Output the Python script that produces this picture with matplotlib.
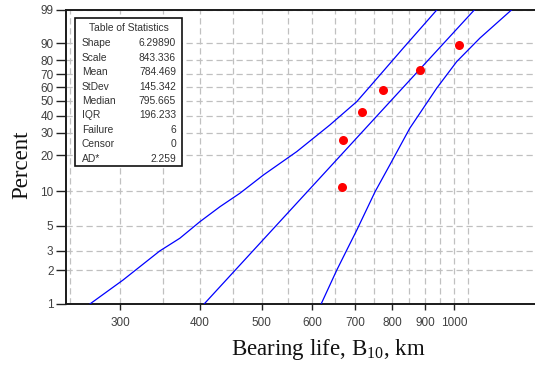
import numpy as np
import matplotlib
matplotlib.use("Agg")
import matplotlib.pyplot as plt
from matplotlib.patches import Rectangle
from matplotlib.ticker import FixedLocator, FixedFormatter, NullFormatter

# ---- data ----
life_km = [667, 670, 717, 775, 884, 1017]
percent = [10.94, 26.56, 42.19, 57.81, 73.44, 89.06]

fit_x = [406, 1075]
fit_p = [1, 99]

upper_x = [269, 303, 346, 372, 400, 430, 462, 503, 567, 639, 704, 738, 832, 939]
upper_p = [1.0, 1.64, 2.99, 3.88, 5.44, 7.36, 9.62, 13.77, 21.4, 34.3, 49.5, 60.7, 87.5, 99.0]

lower_x = [619, 655, 679, 704, 752, 793, 852, 939, 1009, 1097, 1229]
lower_p = [1.0, 2.02, 3.05, 4.59, 9.93, 16.7, 32.4, 59.5, 79.2, 92.3, 99.0]

x_ticks = [300, 400, 500, 600, 700, 800, 900, 1000]
x_grid = [250, 350, 450, 550, 650, 750, 850, 950, 1050]
y_ticks = [1, 2, 3, 5, 10, 20, 30, 40, 50, 60, 70, 80, 90, 99]

stat_names = ["Shape", "Scale", "Mean", "StDev", "Median", "IQR", "Failure", "Censor", "AD*"]
stat_values = ["6.29890", "843.336", "784.469", "145.342", "795.665", "196.233", "6", "0", "2.259"]

W, H = 535, 365
fig = plt.figure(figsize=(W / 100, H / 100), dpi=100)
ax = fig.add_axes([66 / W, 1 - 304 / H, (W - 66) / W, (304 - 10) / H])


def fwd(p):
    p = np.clip(np.asarray(p, dtype=float), 1e-6, 100 - 1e-6) / 100.0
    return np.log(-np.log(1 - p))


def inv(v):
    v = np.asarray(v, dtype=float)
    return 100.0 * (1 - np.exp(-np.exp(v)))


ax.set_xscale("log")
ax.set_yscale("function", functions=(fwd, inv))
ax.set_xlim(246.8, 1338)
ax.set_ylim(1, 99)

blue = "#0000ff"
ax.plot(upper_x, upper_p, color=blue, lw=0.9, zorder=3)
ax.plot(fit_x, fit_p, color=blue, lw=0.9, zorder=3)
ax.plot(lower_x, lower_p, color=blue, lw=0.9, zorder=3)
ax.plot(life_km, percent, "o", color="#ff0000", ms=6.5, mec="none", zorder=4)

ax.xaxis.set_major_locator(FixedLocator(x_ticks))
ax.xaxis.set_major_formatter(FixedFormatter([str(v) for v in x_ticks]))
ax.xaxis.set_minor_locator(FixedLocator(x_grid))
ax.xaxis.set_minor_formatter(NullFormatter())
ax.yaxis.set_major_locator(FixedLocator(y_ticks))
ax.yaxis.set_major_formatter(FixedFormatter([str(v) for v in y_ticks]))
ax.yaxis.set_minor_locator(FixedLocator([]))

ax.grid(True, which="both", color="#c0c0c0", ls=(0, (5, 3)), lw=0.9)
ax.set_axisbelow(True)

ax.tick_params(axis="x", which="major", length=4, width=1, color="#222222",
               labelsize=8.5, labelcolor="#404040", pad=5)
ax.tick_params(axis="x", which="minor", length=0)
ax.tick_params(axis="y", which="major", length=7, width=1, color="#222222",
               labelsize=8.5, labelcolor="#404040", pad=2)
for lab in ax.get_xticklabels() + ax.get_yticklabels():
    lab.set_family("Liberation Sans")

for s in ["left", "bottom", "top"]:
    ax.spines[s].set_linewidth(1.4)
    ax.spines[s].set_color("#1a1a1a")
ax.spines["right"].set_visible(False)

plt.rcParams["mathtext.fontset"] = "custom"
plt.rcParams["mathtext.rm"] = "Liberation Serif"
fig.text(22 / W, 1 - 165 / H, "Percent", rotation=90, ha="center", va="center",
         family="Liberation Serif", fontsize=16.5, color="#111111")
fig.text(328 / W, 1 - 350 / H, r"Bearing life, B$_{\mathrm{10}}$, km", ha="center",
         va="center", family="Liberation Serif", fontsize=16.5, color="#111111")

# statistics table box
bx0, bx1, by0, by1 = 75, 182, 18, 166
fig.add_artist(Rectangle((bx0 / W, 1 - by1 / H), (bx1 - bx0) / W, (by1 - by0) / H,
                         transform=fig.transFigure, facecolor="white",
                         edgecolor="#111111", lw=1.2, zorder=10))
fig.text((bx0 + bx1) / 2 / W, 1 - 28 / H, "Table of Statistics", ha="center", va="center",
         family="Liberation Sans", fontsize=7.4, color="#333333", zorder=11)
for i, (n, v) in enumerate(zip(stat_names, stat_values)):
    yy = 1 - (43.3 + 14.4 * i) / H
    fig.text(82 / W, yy, n, ha="left", va="center", family="Liberation Sans",
             fontsize=7.4, color="#333333", zorder=11)
    fig.text(176 / W, yy, v, ha="right", va="center", family="Liberation Sans",
             fontsize=7.4, color="#333333", zorder=11)

fig.savefig("out.png", dpi=100)
